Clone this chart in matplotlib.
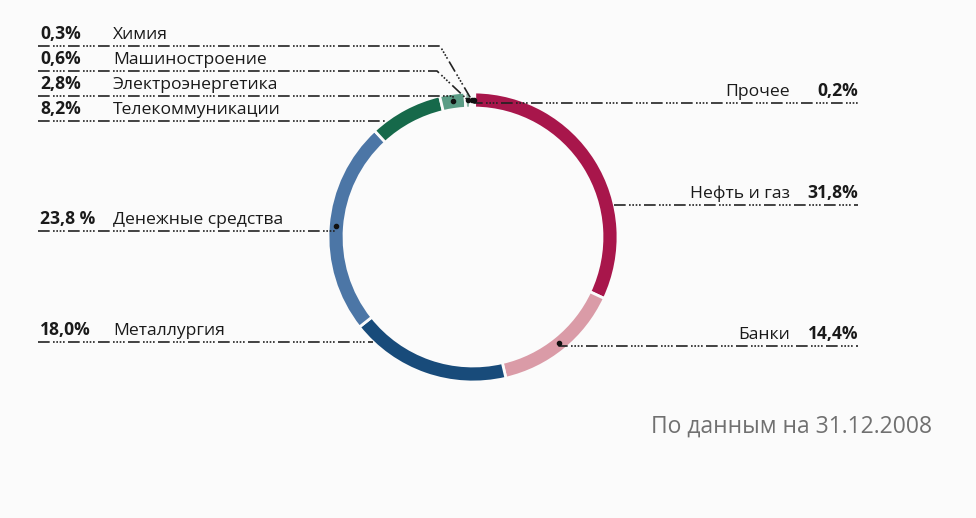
import numpy as np
import matplotlib.pyplot as plt

# данные (по часовой стрелке от верха)
sectors = ['Прочее', 'Нефть и газ', 'Банки', 'Металлургия', 'Денежные средства',
           'Телекоммуникации', 'Электроэнергетика', 'Машиностроение', 'Химия']
shares = [0.2, 31.8, 14.4, 18.0, 23.8, 8.2, 2.8, 0.6, 0.3]
share_labels = ['0,2%', '31,8%', '14,4%', '18,0%', '23,8 %', '8,2%', '2,8%', '0,6%', '0,3%']
colors = ['#c24d73', '#a8164b', '#da9ba7', '#184b7a', '#4c76a6',
          '#16694a', '#5a9c85', '#8fb8a8', '#d5e2dc']
note = 'По данным на 31.12.2008'

# раскладка подписей: сторона, y строки, способ привязки, излом
layout = {
    'Прочее':            ('right', 103, 'dot', None),
    'Нефть и газ':       ('right', 205, 'edge', None),
    'Банки':             ('right', 346, 'dot', None),
    'Металлургия':       ('left', 342, 'edge', None),
    'Денежные средства': ('left', 231, 'dot', None),
    'Телекоммуникации':  ('left', 121, 'edge', None),
    'Электроэнергетика': ('left', 96, 'dot', None),
    'Машиностроение':    ('left', 71, 'dot', 437),
    'Химия':             ('left', 46, 'dot', 440),
}

plt.rcParams['font.family'] = ['Open Sans', 'DejaVu Sans']

W, H = 976, 518
fig = plt.figure(figsize=(W / 100, H / 100), dpi=100)
fig.patch.set_facecolor('#fbfbfb')
ax = fig.add_axes([0, 0, 1, 1])
ax.set_facecolor('#fbfbfb')

cx, cy, R, ring = 473, 237, 145, 16
ax.pie(shares, colors=colors, startangle=-90, counterclock=True,
       center=(cx, cy), radius=R,
       wedgeprops=dict(width=ring, edgecolor='#fbfbfb', linewidth=2))
ax.set_xlim(0, W)
ax.set_ylim(H, 0)
ax.set_aspect('auto')
ax.axis('off')

lead_style = dict(color='#222222', lw=1.2, linestyle=(0, (7, 2, 1, 1, 1, 1, 1, 1, 1, 2)))
cum = np.cumsum([0] + shares[:-1])
total = sum(shares)
rm = R - ring / 2
fs = 12.6

for i, name in enumerate(sectors):
    side, ry, mode, bend = layout[name]
    mid = cum[i] + shares[i] / 2
    th = np.deg2rad(-90 + 360 * mid / total)
    ax_, ay_ = cx + rm * np.cos(th), cy + rm * np.sin(th)
    if mode == 'edge':
        dx = np.sqrt(max(R ** 2 - (ry - cy) ** 2, 0))
        ex = cx - dx if side == 'left' else cx + dx
        pts = [(ex, ry)]
    else:
        pts = [(ax_, ry), (ax_, ay_)] if bend is None else [(bend, ry), (ax_, ay_)]
    if side == 'left':
        xs = [38] + [p[0] for p in pts]
        ys = [ry] + [p[1] for p in pts]
        ax.plot(xs, ys, **lead_style)
        ax.text(40, ry - 3, share_labels[i], fontsize=fs, fontweight='bold',
                color='#1a1a1a', ha='left', va='bottom')
        ax.text(113, ry - 3, name, fontsize=fs, color='#1a1a1a',
                ha='left', va='bottom')
    else:
        xs = [p[0] for p in pts][::-1] + [858]
        ys = [p[1] for p in pts][::-1] + [ry]
        ax.plot(xs, ys, **lead_style)
        ax.text(858, ry - 3, share_labels[i], fontsize=fs, fontweight='bold',
                color='#1a1a1a', ha='right', va='bottom')
        ax.text(790, ry - 3, name, fontsize=fs, color='#1a1a1a',
                ha='right', va='bottom')
    if mode == 'dot':
        ax.plot(ax_, ay_, 'o', color='#111111', ms=3)

ax.text(932, 427, note, fontsize=16.5, color='#707070', ha='right', va='center')

fig.savefig('out.png', dpi=100, facecolor=fig.get_facecolor())
